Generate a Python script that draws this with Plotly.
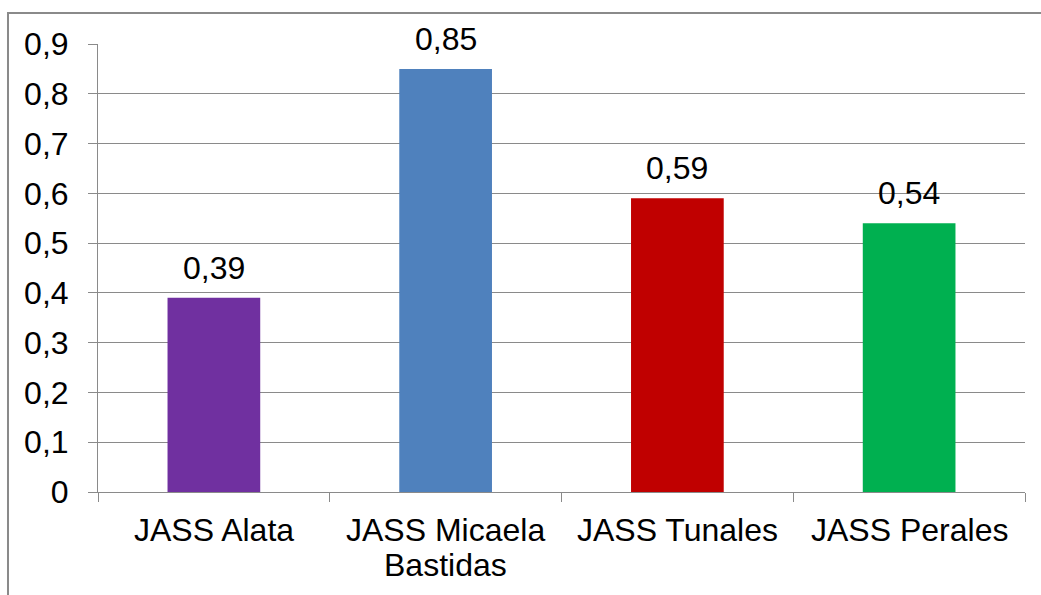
import plotly.graph_objects as go

# Chart data
categories = ["JASS Alata", "JASS Micaela<br>Bastidas", "JASS Tunales", "JASS Perales"]
values = [0.39, 0.85, 0.59, 0.54]
bar_colors = ["#7030A0", "#4F81BD", "#C00000", "#00B050"]
y_tickvals = [0, 0.1, 0.2, 0.3, 0.4, 0.5, 0.6, 0.7, 0.8, 0.9]
y_ticktext = ["0", "0,1", "0,2", "0,3", "0,4", "0,5", "0,6", "0,7", "0,8", "0,9"]

FONT = "Liberation Sans, Arial, sans-serif"
FS = 32
GRID = "#8a8a8a"

fig = go.Figure(
    go.Bar(
        x=categories,
        y=values,
        width=0.4,
        marker=dict(color=bar_colors, line=dict(width=0)),
        hoverinfo="skip",
    )
)

annotations = []
# value labels above each bar
for cat, v in zip(categories, values):
    annotations.append(dict(
        x=cat, y=v, xref="x", yref="y",
        text=f"{v:.2f}".replace(".", ","),
        showarrow=False, yanchor="bottom", yshift=10,
        font=dict(family=FONT, size=FS, color="black"),
    ))
# category labels below the axis, one annotation per line
for cat in categories:
    for i, line in enumerate(cat.split("<br>")):
        annotations.append(dict(
            x=cat, y=0, xref="x", yref="paper",
            text=line, showarrow=False, yanchor="top",
            yshift=-18 - 35 * i,
            font=dict(family=FONT, size=FS, color="black"),
        ))

fig.update_layout(
    width=1041,
    height=595,
    margin=dict(l=98, r=16, t=44, b=103),
    paper_bgcolor="white",
    plot_bgcolor="white",
    showlegend=False,
    font=dict(family=FONT, size=FS, color="black"),
    annotations=annotations,
    shapes=[dict(
        type="rect", xref="paper", yref="paper",
        x0=-0.0971, x1=1.2, y0=-0.4, y1=1.0692,
        line=dict(color=GRID, width=2), layer="below",
    )],
)

fig.update_xaxes(
    type="category",
    showgrid=False,
    showline=True, linecolor=GRID, linewidth=1,
    ticks="outside", tickson="boundaries", ticklen=9, tickcolor=GRID, tickwidth=1,
    showticklabels=False,
)
fig.update_yaxes(
    range=[0, 0.9],
    tickvals=y_tickvals, ticktext=y_ticktext,
    showgrid=True, gridcolor=GRID, gridwidth=1,
    showline=True, linecolor=GRID, linewidth=1,
    ticks="outside", ticklen=9, tickcolor=GRID, tickwidth=1,
    ticklabelstandoff=13,
    zeroline=False,
    tickfont=dict(family=FONT, size=FS, color="black"),
)

fig.write_html("out.html")
